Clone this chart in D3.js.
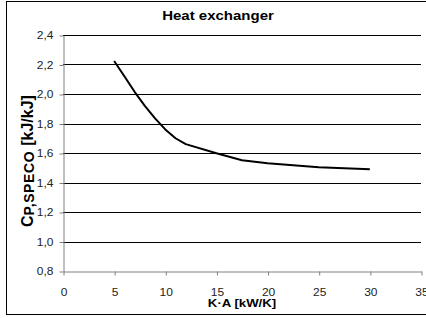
<!DOCTYPE html>
<html>
<head>
<meta charset="utf-8">
<title>Heat exchanger</title>
<style>
    html, body { margin: 0; padding: 0; background: #fff; }
    text { font-family: "Liberation Sans", Arial, sans-serif; fill: #000; }
</style>
</head>
<body>
<script src="https://d3js.org/d3.v7.min.js"></script>
<script>
    // values
    var kaValues = [5, 6, 7, 8, 9, 10, 11, 12, 15, 17.5, 20, 25, 30];
    var cpValues = [2.224, 2.12, 2.015, 1.92, 1.835, 1.76, 1.70, 1.66, 1.598, 1.551, 1.53, 1.504, 1.489];
    var xTicks = [0, 5, 10, 15, 20, 25, 30, 35];
    var yTicks = [0.8, 1.0, 1.2, 1.4, 1.6, 1.8, 2.0, 2.2, 2.4];

    var W = 426, H = 318;
    var svg = d3.select("body").append("svg")
        .attr("width", W)
        .attr("height", H);

    // outer frame (right edge is cut off in the picture)
    svg.append("rect")
        .attr("x", 6.5).attr("y", 1.5)
        .attr("width", 440).attr("height", 313)
        .attr("fill", "#fff")
        .attr("stroke", "#000");

    var x = d3.scaleLinear().domain([0, 35]).range([63, 421]);
    var y = d3.scaleLinear().domain([0.8, 2.4]).range([271, 35]);
    var sx = 1.2; // text in the picture is stretched sideways

    // grid
    svg.append("g").selectAll("line")
        .data(yTicks.slice(1))
        .join("line")
        .attr("x1", x(0)).attr("x2", x(35))
        .attr("y1", d => Math.round(y(d)) + 0.5)
        .attr("y2", d => Math.round(y(d)) + 0.5)
        .attr("stroke", "#000");

    var fmt = d => d3.format(".1f")(d).replace(".", ",");

    var yAxis = svg.append("g")
        .attr("transform", "translate(" + (x(0) + 0.5) + ",0.5)")
        .call(d3.axisLeft(y).tickValues(yTicks).tickFormat(fmt).tickSize(4).tickPadding(0).tickSizeOuter(0));
    yAxis.selectAll("text")
        .attr("x", 0)
        .attr("transform", "translate(-10,0) scale(" + sx + ",1)")
        .style("font-size", "10px")
        .style("fill", "#222");

    var xAxis = svg.append("g")
        .attr("transform", "translate(0.5," + (y(0.8) + 0.5) + ")")
        .call(d3.axisBottom(x).tickValues(xTicks).tickSize(4).tickPadding(0).tickSizeOuter(0));
    xAxis.selectAll("text")
        .attr("y", 0)
        .attr("dy", 0)
        .attr("transform", "translate(0,24) scale(" + sx + ",1)")
        .style("font-size", "10px")
        .style("fill", "#222");

    [yAxis, xAxis].forEach(a => {
        a.select(".domain").attr("stroke", "#808080");
        a.selectAll(".tick line").attr("stroke", "#808080");
    });

    // curve
    var line = d3.line()
        .x((d, i) => x(kaValues[i]))
        .y(d => y(d));
    svg.append("path")
        .datum(cpValues)
        .attr("d", line)
        .attr("fill", "none")
        .attr("stroke", "#000")
        .attr("stroke-width", 2)
        .attr("stroke-linejoin", "round");

    // title
    svg.append("text")
        .attr("transform", "translate(218,20) scale(" + sx + ",1)")
        .attr("text-anchor", "middle")
        .style("font-size", "12.5px")
        .style("font-weight", "bold")
        .text("Heat exchanger");

    // x title
    svg.append("text")
        .attr("transform", "translate(242,307) scale(" + sx + ",1)")
        .attr("text-anchor", "middle")
        .style("font-size", "11px")
        .style("font-weight", "bold")
        .text("K·A [kW/K]");

    // y title
    var yt = svg.append("text")
        .attr("transform", "translate(33,227) rotate(-90)")
        .style("font-weight", "bold");
    yt.append("tspan").style("font-size", "16px").text("C");
    yt.append("tspan").style("font-size", "14px").style("letter-spacing", "0.6px").attr("dy", 1).text("P,SPECO");
    yt.append("tspan").style("font-size", "16px").attr("dy", -1).attr("dx", 5).text("[kJ/kJ]");
</script>
</body>
</html>
